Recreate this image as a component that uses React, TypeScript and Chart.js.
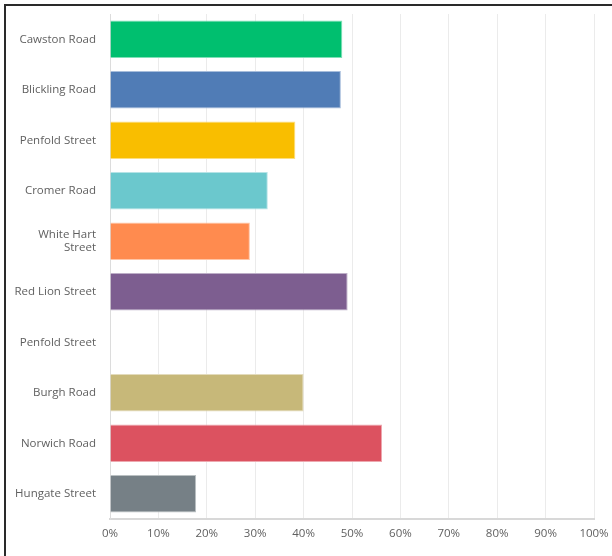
import React, { useEffect, useRef } from "react";
import { Chart, registerables } from "chart.js";

Chart.register(...registerables);

const categories: (string | string[])[] = [
  "Cawston Road",
  "Blickling Road",
  "Penfold Street",
  "Cromer Road",
  ["White Hart", "Street"],
  "Red Lion Street",
  "Penfold Street",
  "Burgh Road",
  "Norwich Road",
  "Hungate Street",
];

const values = [48, 47.7, 38.3, 32.6, 28.9, 49.1, 0, 40, 56.2, 17.8];

const barColors = [
  "#00BF6F",
  "#507CB6",
  "#F9BE00",
  "#6BC8CD",
  "#FF8B4F",
  "#7D5E90",
  "#A0A0A0",
  "#C7B879",
  "#DC5260",
  "#768086",
];

const borderColors = [
  "#7fdfb7",
  "#a7bddb",
  "#fcde7f",
  "#b5e3e6",
  "#ffc5a7",
  "#bdaec7",
  "#cfcfcf",
  "#e3dbbc",
  "#eda8af",
  "#bac0c2",
];

const xTicks = [0, 10, 20, 30, 40, 50, 60, 70, 80, 90, 100];

export default function App() {
  const ref = useRef<HTMLCanvasElement | null>(null);

  useEffect(() => {
    if (!ref.current) return;
    const chart = new Chart(ref.current, {
      type: "bar",
      data: {
        labels: categories as any,
        datasets: [
          {
            data: values,
            backgroundColor: barColors,
            borderColor: borderColors,
            borderWidth: 1,
            barPercentage: 0.74,
            categoryPercentage: 1,
          },
        ],
      },
      options: {
        indexAxis: "y",
        responsive: false,
        animation: false,
        layout: { padding: { top: 14, right: 18, left: 0, bottom: 0 } },
        plugins: { legend: { display: false }, tooltip: { enabled: false } },
        scales: {
          x: {
            min: 0,
            max: 100,
            afterBuildTicks: (scale: any) => {
              scale.ticks = xTicks.map((v) => ({ value: v }));
            },
            afterFit: (scale: any) => {
              scale.height = 37;
              scale.paddingLeft = 0;
              scale.paddingRight = 0;
            },
            ticks: {
              padding: 8,
              color: "#5f5f5f",
              font: { family: "Open Sans", size: 11.5 },
              callback: (v: any) => v + "%",
              maxRotation: 0,
            },
            grid: {
              display: true,
              color: "#ebebeb",
              drawTicks: false,
              lineWidth: 1,
            },
            border: { display: true, color: "#d8d8d8", width: 2 },
          },
          y: {
            afterFit: (scale: any) => {
              scale.width = 110;
              scale.paddingTop = 0;
              scale.paddingBottom = 0;
            },
            ticks: {
              padding: 14,
              color: "#5f5f5f",
              font: { family: "Open Sans", size: 11.5 },
              crossAlign: "near",
            },
            grid: { display: false, drawTicks: false },
            border: { display: true, color: "#dcdcdc", width: 1 },
          },
        },
      },
    });
    return () => chart.destroy();
  }, []);

  return (
    <div
      style={{
        position: "absolute",
        left: 0,
        top: 0,
        width: 612,
        height: 556,
        background: "#fff",
        overflow: "hidden",
      }}
    >
      <canvas
        ref={ref}
        width={612}
        height={556}
        style={{ position: "absolute", left: 0, top: 0 }}
      />
      <div
        style={{
          position: "absolute",
          left: 4,
          top: 4,
          width: 700,
          height: 700,
          borderTop: "2px solid #2a2a2a",
          borderLeft: "2px solid #2a2a2a",
        }}
      />
    </div>
  );
}
